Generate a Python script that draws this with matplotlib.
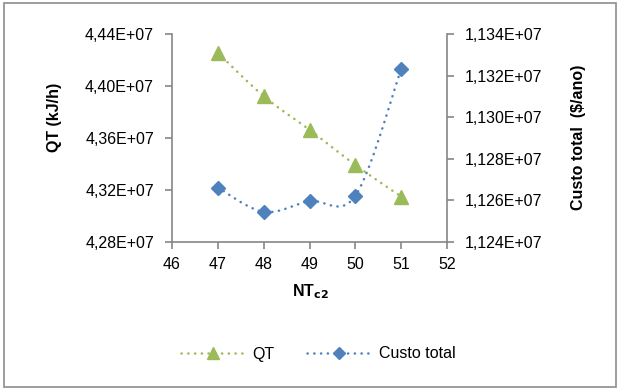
import numpy as np
import matplotlib
matplotlib.use("Agg")
import matplotlib.pyplot as plt
from matplotlib.patches import Rectangle
from matplotlib.lines import Line2D
from matplotlib.ticker import FixedLocator, FuncFormatter

plt.rcParams['font.family'] = ['Liberation Sans', 'DejaVu Sans']

nt = [47, 48, 49, 50, 51]
qt = [4.4256e7, 4.3922e7, 4.3663e7, 4.3393e7, 4.3149e7]
custo = [1.12662e7, 1.12545e7, 1.12596e7, 1.12622e7, 1.13231e7]

left_ticks = [4.28e7, 4.32e7, 4.36e7, 4.40e7, 4.44e7]
right_ticks = [1.124e7, 1.126e7, 1.128e7, 1.130e7, 1.132e7, 1.134e7]
x_ticks = [46, 47, 48, 49, 50, 51, 52]

GREEN = '#9BBB59'
BLUE = '#4F81BD'
AXC = '#868686'
FS = 11.5
DOT = (0, (0.1, 2.6))


def smooth(xs, ys, n=30):
    xs = np.asarray(xs, float); ys = np.asarray(ys, float)
    P = np.column_stack([xs, ys])
    P = np.vstack([P[0], P, P[-1]])
    out = []
    for i in range(1, len(P) - 2):
        p0, p1, p2, p3 = P[i - 1], P[i], P[i + 1], P[i + 2]
        c1 = p1 + (p2 - p0) / 6.0
        c2 = p2 - (p3 - p1) / 6.0
        t = np.linspace(0, 1, n)[:, None]
        seg = ((1 - t) ** 3) * p1 + 3 * ((1 - t) ** 2) * t * c1 + 3 * (1 - t) * t ** 2 * c2 + t ** 3 * p2
        out.append(seg if i == 1 else seg[1:])
    s = np.vstack(out)
    return s[:, 0], s[:, 1]


def sci_pt(v, pos, dec):
    m = v / 1e7
    return (f"{m:.{dec}f}").replace('.', ',') + "E+07"


fig = plt.figure(figsize=(6.18, 3.9), dpi=100)
W, H = 618, 390
ax = fig.add_axes([172 / W, 1 - 242 / H, (447 - 172) / W, (242 - 34) / H])
ax2 = ax.twinx()

ax.set_xlim(46, 52)
ax.set_ylim(4.28e7, 4.44e7)
ax2.set_ylim(1.124e7, 1.134e7)

sx, sy = smooth(nt, qt)
ax.plot(sx, sy, color=GREEN, lw=1.8, ls=DOT, dash_capstyle='round', zorder=2)
ax.plot(nt, qt, ls='none', marker='^', ms=10, color=GREEN, mec=GREEN, zorder=3)

cx, cy = smooth(nt, custo)
ax2.plot(cx, cy, color=BLUE, lw=1.8, ls=DOT, dash_capstyle='round', zorder=2)
ax2.plot(nt, custo, ls='none', marker='D', ms=7.5, color=BLUE, mec=BLUE, zorder=3)

ax.xaxis.set_major_locator(FixedLocator(x_ticks))
ax.yaxis.set_major_locator(FixedLocator(left_ticks))
ax2.yaxis.set_major_locator(FixedLocator(right_ticks))
ax.yaxis.set_major_formatter(FuncFormatter(lambda v, p: sci_pt(v, p, 2)))
ax2.yaxis.set_major_formatter(FuncFormatter(lambda v, p: sci_pt(v, p, 3)))
ax.xaxis.set_major_formatter(FuncFormatter(lambda v, p: f"{int(round(v))}"))

for a in (ax, ax2):
    for s in a.spines.values():
        s.set_visible(False)
    a.set_facecolor('none')
ax.spines['left'].set_visible(True)
ax.spines['bottom'].set_visible(True)
ax2.spines['right'].set_visible(True)
for s in (ax.spines['left'], ax.spines['bottom'], ax2.spines['right']):
    s.set_color(AXC)
    s.set_linewidth(1.2)

ax.tick_params(axis='both', direction='out', length=5, width=1.2, color=AXC,
               labelsize=FS, labelcolor='black')
ax.tick_params(axis='y', pad=8)
ax.tick_params(axis='x', pad=6)
ax2.tick_params(axis='y', direction='out', length=5, width=1.2, color=AXC,
                labelsize=FS, labelcolor='black', pad=8)

fig.text(55 / W, 1 - 117 / H, "QT (kJ/h)", rotation=90, ha='center', va='center',
         fontsize=FS, fontweight='bold')
fig.text(578 / W, 1 - 137 / H, "Custo total  ($/ano)", rotation=90, ha='center', va='center',
         fontsize=FS, fontweight='bold')
fig.text(310 / W, 1 - 292 / H, r"NT$_{\mathbf{c2}}$", ha='center', va='center',
         fontsize=FS, fontweight='bold')

h1 = Line2D([], [], color=GREEN, lw=1.8, ls=DOT, dash_capstyle='round', marker='^', ms=8, mec=GREEN)
h2 = Line2D([], [], color=BLUE, lw=1.8, ls=DOT, dash_capstyle='round', marker='D', ms=6.5, mec=BLUE)
fig.legend([h1, h2], ["QT", "Custo total"], loc='center', bbox_to_anchor=(318 / W, 1 - 354 / H),
           ncol=2, frameon=False, fontsize=FS, handlelength=4.0, columnspacing=2.0,
           handletextpad=0.5)

fig.patches.append(Rectangle((4 / W, 3 / H), (616 - 4) / W, (387 - 3) / H,
                             transform=fig.transFigure, fill=False, edgecolor='#8c8c8c', lw=1.2))

fig.savefig("out.png", dpi=100)
